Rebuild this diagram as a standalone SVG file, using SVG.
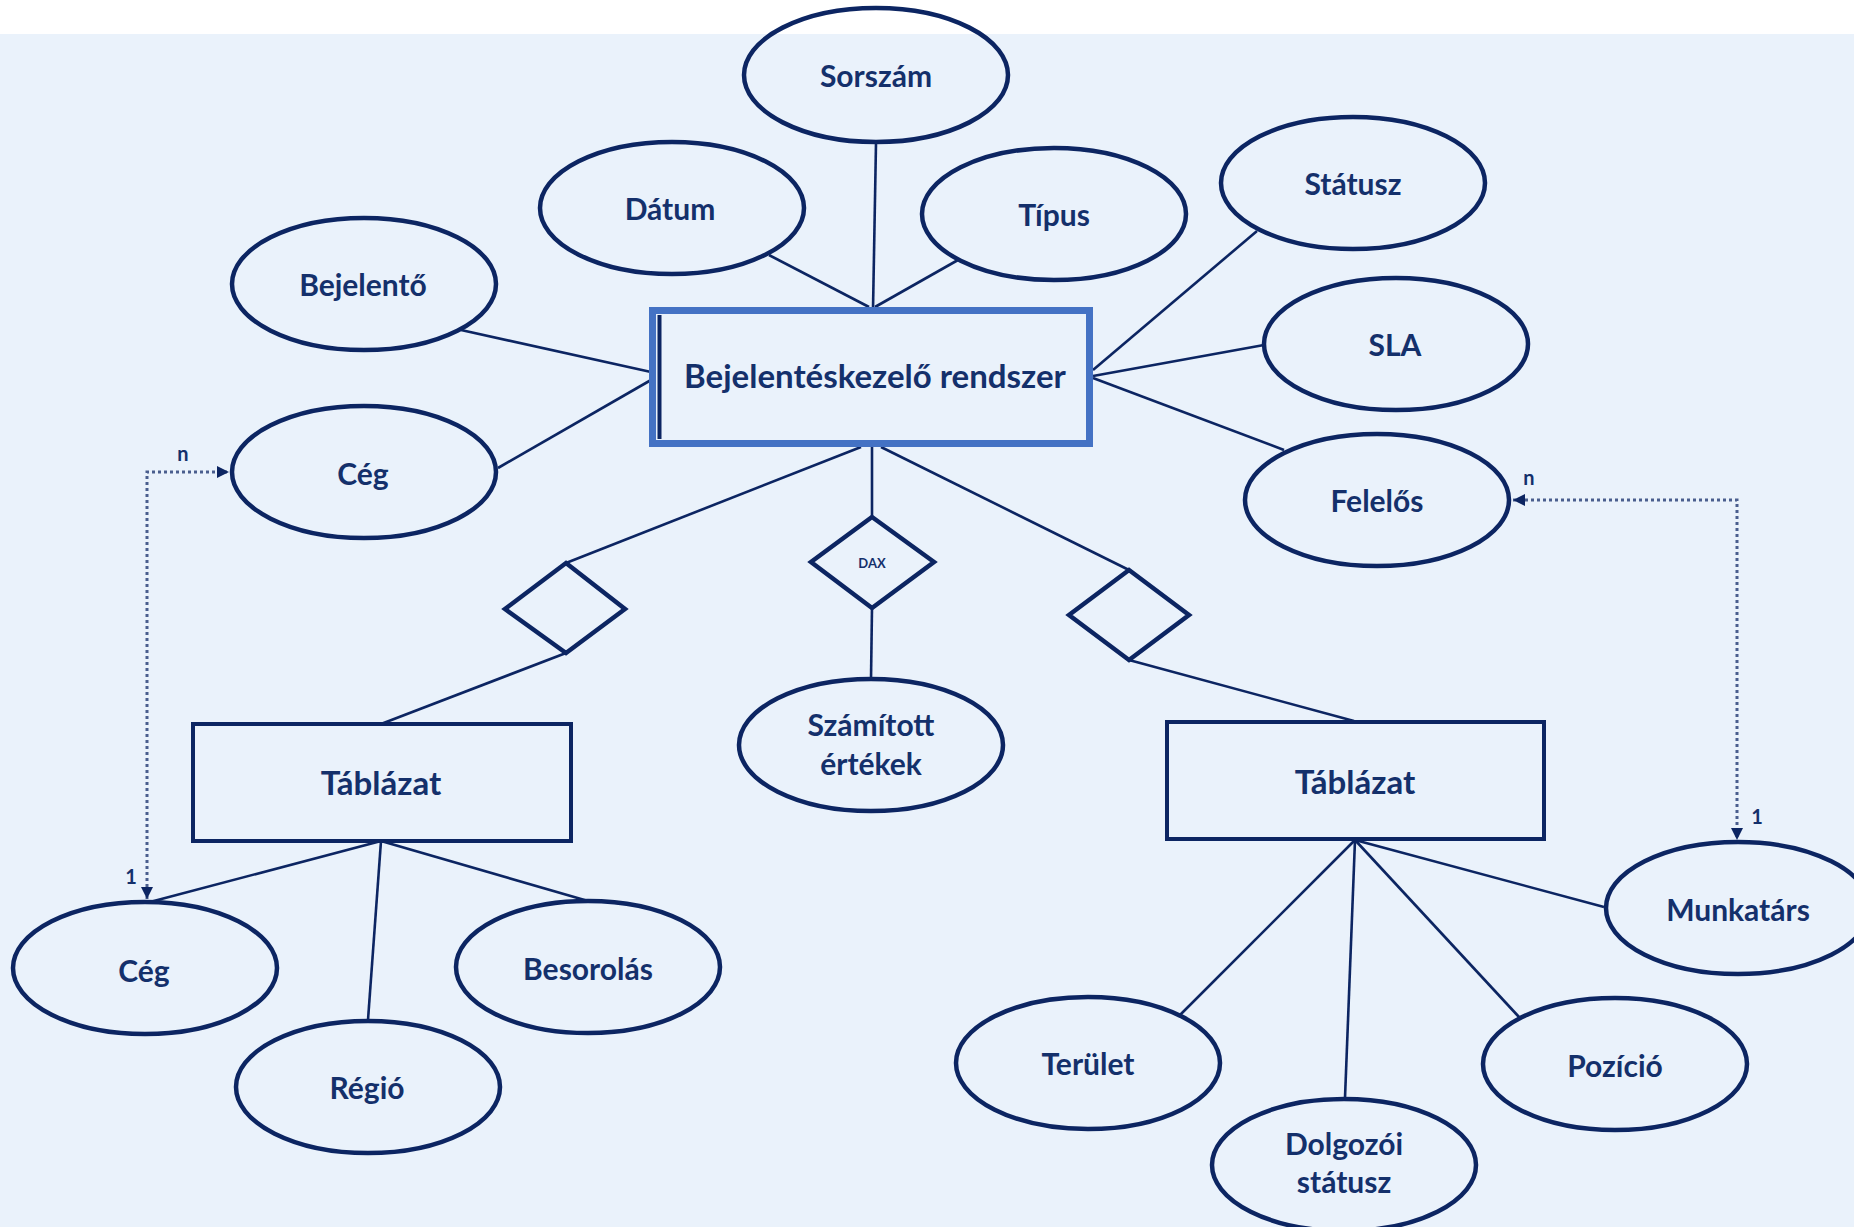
<svg xmlns="http://www.w3.org/2000/svg" width="1854" height="1227" viewBox="0 0 1854 1227">
<defs>
<style>
.bg{fill:#EAF2FB}
.attr{fill:none;stroke:#0C2562;stroke-width:4.5}
.ent{fill:none;stroke:#0C2562;stroke-width:4}
.rel{fill:none;stroke:#0C2562;stroke-width:4.5;stroke-linejoin:miter}
.ln{stroke:#0C2562;stroke-width:2.6;fill:none}
.dot{stroke:#4A5E8E;stroke-width:3;fill:none;stroke-dasharray:3 3}
text{font-family:Lato,"Open Sans","Liberation Sans",sans-serif;font-weight:700;fill:#14306B;text-anchor:middle}
.t{font-size:30px}
.te{font-size:33px}
.tb{font-size:33px}
.sm{font-size:20px}
.dax{font-size:13px}
</style>
<marker id="ah" viewBox="0 0 10 10" refX="10" refY="5" markerWidth="4" markerHeight="4" orient="auto-start-reverse" markerUnits="strokeWidth">
<path d="M0,0 L10,5 L0,10 z" fill="#0C2562"/>
</marker>
</defs>
<rect x="0" y="0" width="1854" height="1227" fill="#FFFFFF"/>
<rect class="bg" x="0" y="34" width="1854" height="1193"/>

<g id="connectors">
<line class="ln" x1="876" y1="143" x2="873" y2="310"/>
<line class="ln" x1="769" y1="255" x2="869" y2="307"/>
<line class="ln" x1="958" y1="260" x2="875" y2="307"/>
<line class="ln" x1="461" y1="330" x2="651" y2="372"/>
<line class="ln" x1="498" y1="468" x2="651" y2="380"/>
<line class="ln" x1="1257" y1="231" x2="1093" y2="370"/>
<line class="ln" x1="1264" y1="345" x2="1093" y2="376"/>
<line class="ln" x1="1284" y1="450" x2="1093" y2="378"/>
<line class="ln" x1="861" y1="447" x2="566" y2="563"/>
<line class="ln" x1="872" y1="447" x2="872" y2="517"/>
<line class="ln" x1="881" y1="447" x2="1129" y2="570"/>
<line class="ln" x1="566" y1="653" x2="381" y2="724"/>
<line class="ln" x1="872" y1="608" x2="871" y2="679"/>
<line class="ln" x1="1129" y1="660" x2="1354" y2="721"/>
<line class="ln" x1="381" y1="841" x2="150" y2="902"/>
<line class="ln" x1="381" y1="841" x2="368" y2="1020"/>
<line class="ln" x1="381" y1="841" x2="588" y2="901"/>
<line class="ln" x1="1355" y1="840" x2="1180" y2="1015"/>
<line class="ln" x1="1355" y1="840" x2="1345" y2="1098"/>
<line class="ln" x1="1355" y1="840" x2="1519" y2="1017"/>
<line class="ln" x1="1355" y1="840" x2="1604" y2="907"/>
<path class="dot" d="M147,899 L147,472 L229,472" marker-start="url(#ah)" marker-end="url(#ah)"/>
<path class="dot" d="M1513,500 L1737,500 L1737,840" marker-start="url(#ah)" marker-end="url(#ah)"/>
<text class="sm" x="183" y="461">n</text>
<text class="sm" x="131" y="884">1</text>
<text class="sm" x="1529" y="485">n</text>
<text class="sm" x="1757" y="824">1</text>
</g>

<g id="central">
<rect x="652.5" y="310.5" width="437" height="133" fill="none" stroke="#4472C4" stroke-width="7"/>
<line x1="659.5" y1="315" x2="659.5" y2="439" stroke="#0C2562" stroke-width="4"/>
<text class="tb" x="875" y="388">Bejelentéskezelő rendszer</text>
</g>

<g id="sorszam"><ellipse class="attr" cx="876" cy="75" rx="132" ry="67"/><text class="t" x="876" y="87">Sorszám</text></g>
<g id="datum"><ellipse class="attr" cx="672" cy="208" rx="132" ry="66"/><text class="t" x="670" y="220">Dátum</text></g>
<g id="tipus"><ellipse class="attr" cx="1054" cy="214" rx="132" ry="66"/><text class="t" x="1054" y="226">Típus</text></g>
<g id="bejelento"><ellipse class="attr" cx="364" cy="284" rx="132" ry="66"/><text class="t" x="363" y="296">Bejelentő</text></g>
<g id="ceg1"><ellipse class="attr" cx="364" cy="472" rx="132" ry="66"/><text class="t" x="363" y="485">Cég</text></g>
<g id="statusz"><ellipse class="attr" cx="1353" cy="183" rx="132" ry="66"/><text class="t" x="1353" y="195">Státusz</text></g>
<g id="sla"><ellipse class="attr" cx="1396" cy="344" rx="132" ry="66"/><text class="t" x="1395" y="356">SLA</text></g>
<g id="felelos"><ellipse class="attr" cx="1377" cy="500" rx="132" ry="66"/><text class="t" x="1377" y="512">Felelős</text></g>

<g id="rel-left"><polygon class="rel" points="566,563 625,609 566,653 505,609"/></g>
<g id="rel-dax"><polygon class="rel" points="872,517 934,562 872,608 811,562"/><text class="dax" x="872" y="568">DAX</text></g>
<g id="rel-right"><polygon class="rel" points="1129,570 1189,615 1129,660 1069,615"/></g>

<g id="szamitott"><ellipse class="attr" cx="871" cy="745" rx="132" ry="66"/><text class="t" x="871" y="736">Számított</text><text class="t" x="871" y="775">értékek</text></g>

<g id="tablazat-left"><rect class="ent" x="193" y="724" width="378" height="117"/><text class="te" x="381" y="795">Táblázat</text></g>
<g id="tablazat-right"><rect class="ent" x="1167" y="722" width="377" height="117"/><text class="te" x="1355" y="794">Táblázat</text></g>

<g id="ceg2"><ellipse class="attr" cx="145" cy="968" rx="132" ry="66"/><text class="t" x="144" y="982">Cég</text></g>
<g id="regio"><ellipse class="attr" cx="368" cy="1087" rx="132" ry="66"/><text class="t" x="367" y="1099">Régió</text></g>
<g id="besorolas"><ellipse class="attr" cx="588" cy="967" rx="132" ry="66"/><text class="t" x="588" y="980">Besorolás</text></g>
<g id="munkatars"><ellipse class="attr" cx="1738" cy="908" rx="132" ry="66"/><text class="t" x="1738" y="921">Munkatárs</text></g>
<g id="terulet"><ellipse class="attr" cx="1088" cy="1063" rx="132" ry="66"/><text class="t" x="1088" y="1075">Terület</text></g>
<g id="dolgozoi"><ellipse class="attr" cx="1344" cy="1165" rx="132" ry="66"/><text class="t" x="1344" y="1155">Dolgozói</text><text class="t" x="1344" y="1193">státusz</text></g>
<g id="pozicio"><ellipse class="attr" cx="1615" cy="1064" rx="132" ry="66"/><text class="t" x="1615" y="1077">Pozíció</text></g>
</svg>
